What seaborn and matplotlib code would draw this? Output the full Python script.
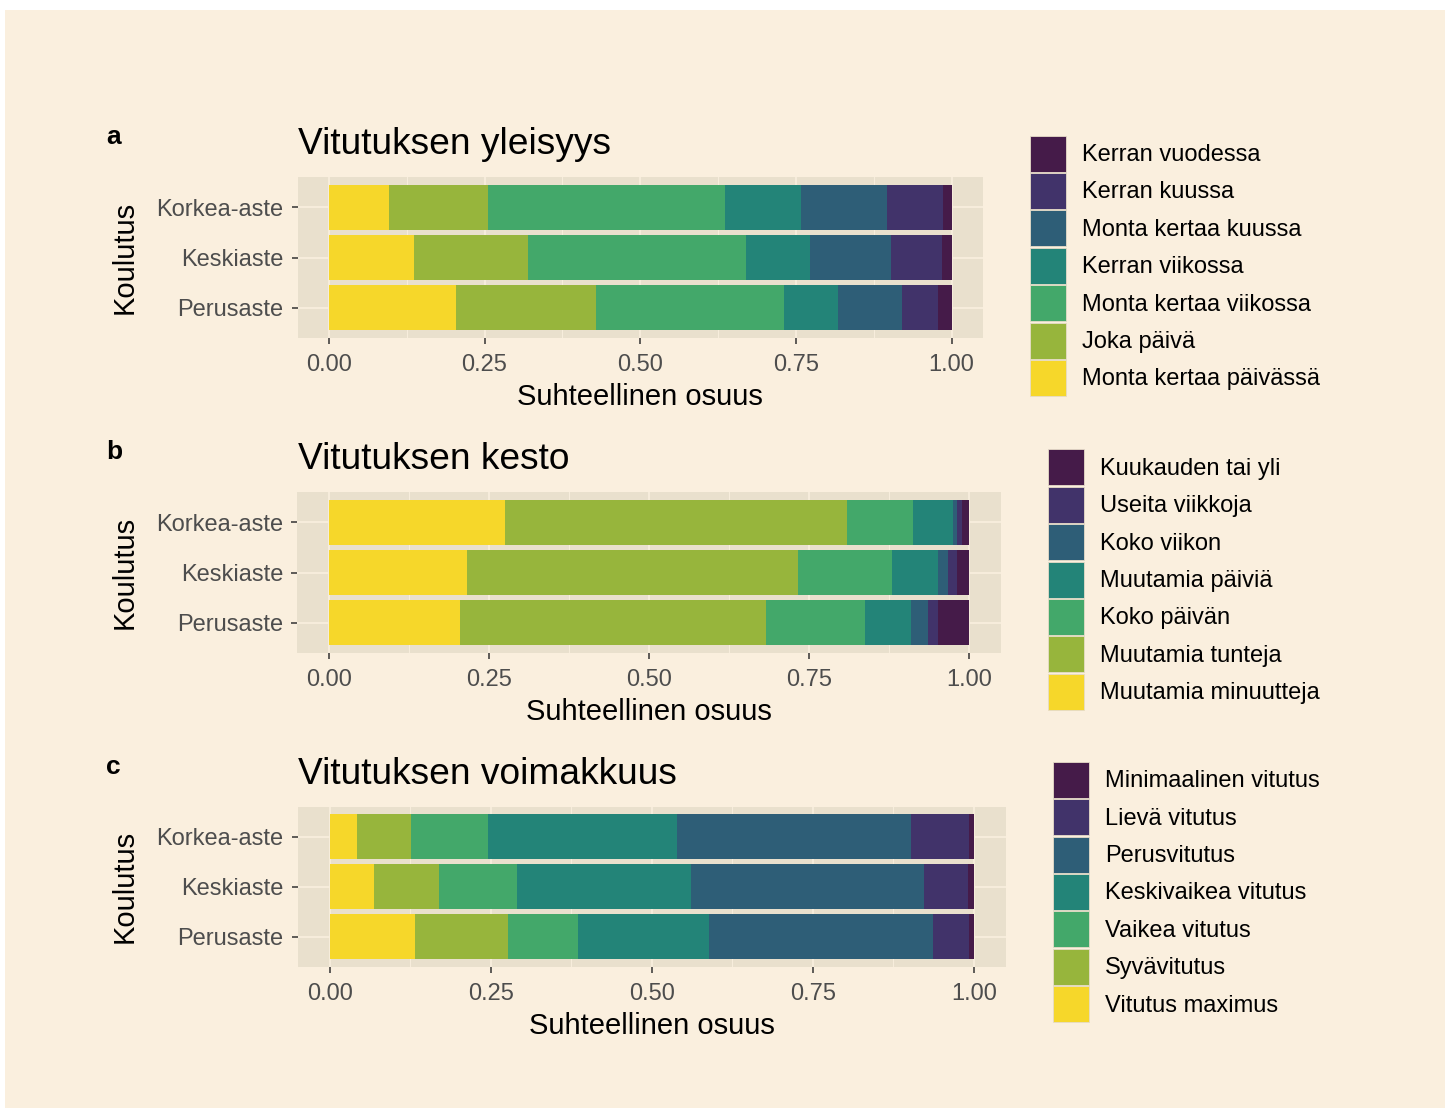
import numpy as np
import pandas as pd
import matplotlib
matplotlib.use("Agg")
import matplotlib.pyplot as plt
from matplotlib.patches import Patch, Rectangle
import seaborn as sns

# ---------------- data ----------------
education = ["Korkea-aste", "Keskiaste", "Perusaste"]

freq_levels = ["Monta kertaa päivässä", "Joka päivä", "Monta kertaa viikossa",
               "Kerran viikossa", "Monta kertaa kuussa", "Kerran kuussa", "Kerran vuodessa"]
freq_korkea = [0.097, 0.158, 0.381, 0.122, 0.138, 0.090, 0.014]
freq_keski = [0.136, 0.184, 0.350, 0.102, 0.130, 0.082, 0.016]
freq_perus = [0.205, 0.224, 0.302, 0.087, 0.103, 0.057, 0.022]

dur_levels = ["Muutamia minuutteja", "Muutamia tunteja", "Koko päivän",
              "Muutamia päiviä", "Koko viikon", "Useita viikkoja", "Kuukauden tai yli"]
dur_korkea = [0.275, 0.535, 0.103, 0.062, 0.007, 0.007, 0.011]
dur_keski = [0.215, 0.517, 0.147, 0.073, 0.015, 0.014, 0.019]
dur_perus = [0.205, 0.477, 0.156, 0.072, 0.026, 0.015, 0.049]

int_levels = ["Vitutus maximus", "Syvävitutus", "Vaikea vitutus",
              "Keskivaikea vitutus", "Perusvitutus", "Lievä vitutus", "Minimaalinen vitutus"]
int_korkea = [0.042, 0.084, 0.119, 0.294, 0.363, 0.090, 0.008]
int_keski = [0.069, 0.100, 0.121, 0.270, 0.362, 0.069, 0.009]
int_perus = [0.132, 0.144, 0.110, 0.202, 0.348, 0.056, 0.008]

titles = ["Vitutuksen yleisyys", "Vitutuksen kesto", "Vitutuksen voimakkuus"]
tags = ["a", "b", "c"]
y_title = "Koulutus"
x_title = "Suhteellinen osuus"
x_ticks = [0.0, 0.25, 0.5, 0.75, 1.0]
x_tick_labels = ["0.00", "0.25", "0.50", "0.75", "1.00"]
x_minor = [0.125, 0.375, 0.625, 0.875]

# ---------------- style ----------------
plt.rcParams["font.family"] = ["Liberation Sans", "DejaVu Sans"]
BG = "#FAEFDE"
PANEL = "#E9E0CD"
GRID = "#F8EEDD"
colors = ["#F6D72A", "#97B53C", "#43A86A", "#238478", "#2E5E77", "#41336A", "#451B49"]
TICKC = "#4D4D4D"

W, H = 1445, 1108
fig = plt.figure(figsize=(W / 100, H / 100), dpi=100, facecolor="white")
fig.patches.append(Rectangle((5 / W, 0), 1, 1 - 10 / H, transform=fig.transFigure,
                             facecolor=BG, edgecolor="none", zorder=-10))

panels = [
    dict(levels=freq_levels, rows=[freq_korkea, freq_keski, freq_perus],
         box=(297.7, 177, 982.7, 338), legend=(1029.5, 135.5)),
    dict(levels=dur_levels, rows=[dur_korkea, dur_keski, dur_perus],
         box=(297.3, 492, 1001, 653), legend=(1048.3, 449.3)),
    dict(levels=int_levels, rows=[int_korkea, int_keski, int_perus],
         box=(297.5, 806.5, 1006.2, 967), legend=(1053.3, 761.7)),
]

FS_TICK = 17
px = FS_TICK * 100 / 72.0
key_px = 36.0
hh = (key_px / px - 0.245) / 0.65

for i, p in enumerate(panels):
    l, t, r, b = p["box"]
    ax = fig.add_axes([l / W, 1 - b / H, (r - l) / W, (b - t) / H])
    ax.set_facecolor(PANEL)
    vals = np.array(p["rows"], dtype=float)
    cum = np.cumsum(vals, axis=1)
    df = pd.DataFrame(cum, columns=p["levels"])
    df["Koulutus"] = education
    for k in reversed(range(len(p["levels"]))):
        sns.barplot(data=df, x=p["levels"][k], y="Koulutus", orient="h",
                    color=colors[k], saturation=1, width=0.9, errorbar=None,
                    ax=ax, zorder=3, linewidth=0)
    ax.set_xlim(-0.05, 1.05)
    ax.set_ylim(2.6, -0.6)
    ax.set_xticks(x_ticks)
    ax.set_xticklabels(x_tick_labels)
    ax.set_xticks(x_minor, minor=True)
    ax.set_axisbelow(True)
    ax.grid(which="major", color=GRID, linewidth=1.3, zorder=0)
    ax.grid(which="minor", axis="x", color=GRID, linewidth=0.7, zorder=0)
    for s in ax.spines.values():
        s.set_visible(False)
    ax.tick_params(axis="both", which="major", length=4.2, width=1.1, color="#333333",
                   labelsize=FS_TICK, labelcolor=TICKC, pad=6)
    ax.tick_params(axis="x", which="major", pad=7)
    ax.tick_params(axis="both", which="minor", length=0)
    ax.set_ylabel("")
    ax.set_xlabel(x_title, fontsize=21, color="black")
    ax.xaxis.set_label_coords(0.5, -45.0 / (b - t))

    # title and tag
    fig.text(298 / W, 1 - (t - 23.0) / H, titles[i], fontsize=26.7, ha="left", va="baseline")
    fig.text(106 / W, 1 - (t - 33) / H, tags[i], fontsize=19, fontweight="bold",
             ha="left", va="baseline")
    fig.text(125 / W, 1 - ((t + b) / 2) / H, y_title, fontsize=21, rotation=90,
             ha="center", va="center")

    # legend
    lx, ly = p["legend"]
    handles = [Patch(facecolor=colors[k], edgecolor="#E6DCC8", linewidth=0.6,
                     label=p["levels"][k]) for k in reversed(range(len(p["levels"])))]
    fig.legend(handles=handles, loc="upper left",
               bbox_to_anchor=(lx / W, 1 - ly / H), bbox_transform=fig.transFigure,
               frameon=False, fontsize=FS_TICK, handlelength=key_px / px, handleheight=hh,
               labelspacing=1.4 / px, handletextpad=16.0 / px, borderpad=0,
               borderaxespad=0)

fig.savefig("out.png", dpi=100, facecolor=fig.get_facecolor())
